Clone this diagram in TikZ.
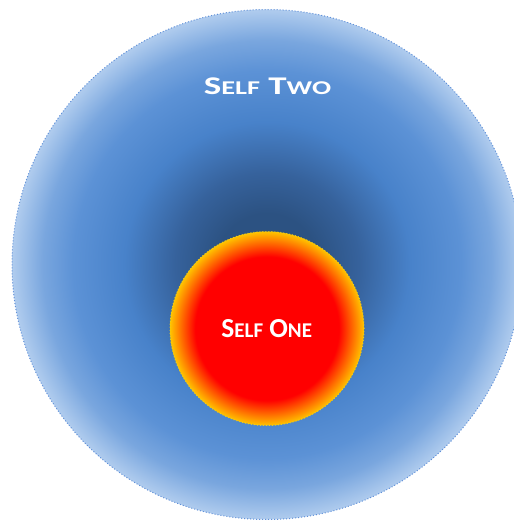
\documentclass[tikz,border=0pt]{standalone}
\usepackage{fontspec}
\setmainfont{Carlito}
\newfontfamily\widefont[FakeStretch=1.45]{Carlito}

\definecolor{bluecore}{RGB}{44,82,130}
\definecolor{bluedeep}{RGB}{54,98,156}
\definecolor{bluemid}{RGB}{72,130,202}
\definecolor{bluemidtwo}{RGB}{92,146,214}
\definecolor{bluerim}{RGB}{176,204,238}
\definecolor{blueedge}{RGB}{96,144,216}
\definecolor{oneorange}{RGB}{255,90,0}
\definecolor{oneamber}{RGB}{255,150,0}
\definecolor{oneyellow}{RGB}{255,195,0}
\definecolor{oneedge}{RGB}{235,205,30}

% the path's bounding box takes the inner 25bp of a shading
\pgfdeclareradialshading{selftwoshade}{\pgfpoint{0bp}{0bp}}{%
  color(0bp)=(bluecore); color(5bp)=(bluecore);
  color(9bp)=(bluedeep); color(14bp)=(bluemid);
  color(19bp)=(bluemidtwo); color(22bp)=(bluemidtwo!65!bluerim);
  color(25bp)=(bluerim); color(50bp)=(bluerim)}
\pgfdeclareradialshading{selfoneshade}{\pgfpoint{0bp}{0bp}}{%
  color(0bp)=(red); color(18.5bp)=(red);
  color(21.5bp)=(oneorange); color(23.5bp)=(oneamber);
  color(25bp)=(oneyellow); color(50bp)=(oneyellow)}

% fake small caps for the labels
\newcommand{\lowcap}[1]{{\fontsize{\lowsize}{\lowsize}\selectfont #1}}

\begin{document}
\begin{tikzpicture}[x=1pt, y=-1pt,
    ring/.style={circle, inner sep=0pt, dotted, line width=1pt},
    selflabel/.style={text=white, anchor=base, inner sep=0pt}]

  \useasboundingbox (0,0) rectangle (513,521);

  % outer self
  \node[ring, draw=blueedge, shading=selftwoshade, minimum size=510pt]
    (selftwo) at (267,264.5) {};
  % inner self
  \node[ring, draw=oneedge, shading=selfoneshade, minimum size=194pt]
    (selfone) at (267,328.5) {};

  \node[selflabel, font=\widefont\bfseries\fontsize{25.5}{30}\selectfont\def\lowsize{19.5pt}]
    (twolabel) at (267.5,94.3) {S\lowcap{ELF} T\lowcap{WO}};
  \node[selflabel, font=\bfseries\fontsize{27.5}{32}\selectfont\def\lowsize{21pt}]
    (onelabel) at (266.7,337.7) {S\lowcap{ELF} O\lowcap{NE}};

\end{tikzpicture}
\end{document}
